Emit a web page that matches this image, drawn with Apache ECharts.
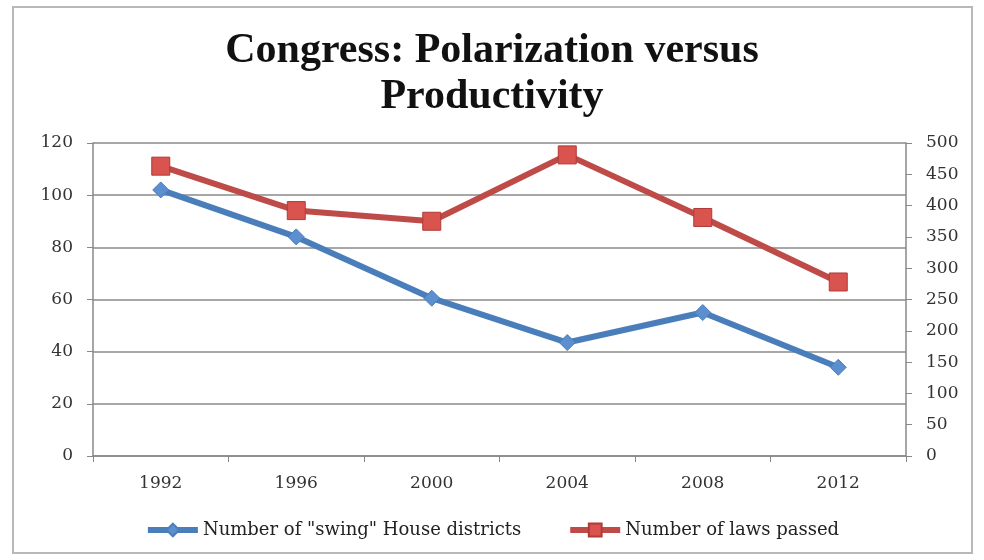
<!DOCTYPE html>
<html><head><meta charset="utf-8">
<script src="https://cdn.jsdelivr.net/npm/echarts@6/dist/echarts.min.js"></script>
<style>html,body{margin:0;padding:0;background:#fff}#c{width:984px;height:560px}</style>
</head><body><div id="c"></div>
<script>
const years = ['1992','1996','2000','2004','2008','2012'];
const swingDistricts = [102, 84, 60.5, 43.5, 55, 34];
const lawsPassed = [463, 392, 375, 481, 381, 278];
const leftTicks = {min:0, max:120, interval:20};
const rightTicks = {min:0, max:500, interval:50};

const titleFont = '"Liberation Serif","DejaVu Serif",serif';
const serif = '"DejaVu Serif","Liberation Serif",serif';
const chart = echarts.init(document.getElementById('c'));
chart.setOption({
  backgroundColor:'#fff',
  animation:false,
  graphic:[{type:'rect',shape:{x:13,y:7,width:959,height:546},style:{fill:'none',stroke:'#b8b8b8',lineWidth:2},silent:true}],
  title:{text:'Congress: Polarization versus\nProductivity',left:'center',top:23,
    textStyle:{fontFamily:titleFont,fontWeight:'bold',fontSize:42,color:'#111',lineHeight:46}},
  grid:{left:93,right:78,top:143,bottom:104},
  legend:{bottom:16,left:'center',itemGap:46,itemWidth:50,itemHeight:16,
    lineStyle:{width:6},
    textStyle:{fontFamily:serif,fontSize:18,color:'#222'},
    data:['Number of "swing" House districts','Number of laws passed']},
  xAxis:{type:'category',data:years,boundaryGap:true,
    axisLine:{lineStyle:{color:'#888',width:1.5}},
    axisTick:{show:true,alignWithLabel:false,length:6,lineStyle:{color:'#888'}},
    axisLabel:{fontFamily:serif,fontSize:17,color:'#333',margin:19}},
  yAxis:[
    {type:'value',position:'left',min:leftTicks.min,max:leftTicks.max,interval:leftTicks.interval,
      axisLine:{show:true,lineStyle:{color:'#888',width:1.5}},
      axisTick:{show:true,length:6,lineStyle:{color:'#888'}},
      splitLine:{lineStyle:{color:'#8a8a8a',width:1.5}},
      axisLabel:{fontFamily:serif,fontSize:17,color:'#333',margin:20}},
    {type:'value',position:'right',min:rightTicks.min,max:rightTicks.max,interval:rightTicks.interval,
      axisLine:{show:true,lineStyle:{color:'#888',width:1.5}},
      axisTick:{show:true,length:6,lineStyle:{color:'#888'}},
      splitLine:{show:false},
      axisLabel:{fontFamily:serif,fontSize:17,color:'#333',margin:20}}
  ],
  series:[
    {name:'Number of "swing" House districts',type:'line',yAxisIndex:0,data:swingDistricts,
      symbol:'diamond',symbolSize:16,
      lineStyle:{color:'#4a7ebb',width:6},
      itemStyle:{color:'#5b8fd0',borderColor:'#4a7ebb',borderWidth:1}},
    {name:'Number of laws passed',type:'line',yAxisIndex:1,data:lawsPassed,
      symbol:'rect',symbolSize:18,
      lineStyle:{color:'#be4b48',width:6},
      itemStyle:{color:'#d9534f',borderColor:'#b03a37',borderWidth:1}}
  ]
});
</script></body></html>
